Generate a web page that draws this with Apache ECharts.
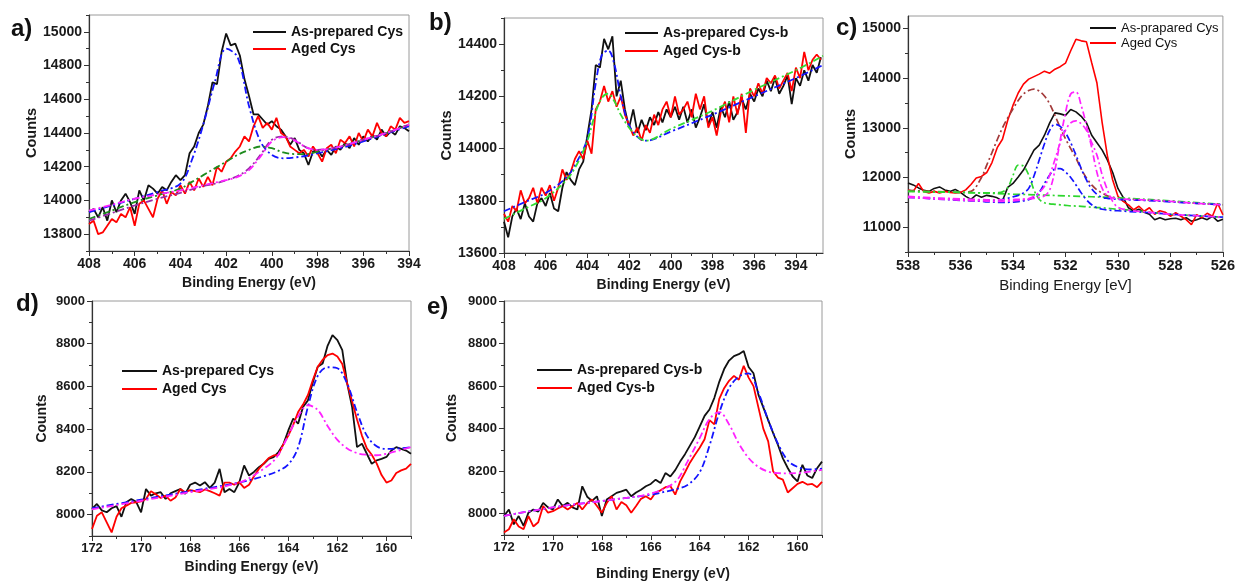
<!DOCTYPE html>
<html><head><meta charset="utf-8">
<script src="https://cdn.jsdelivr.net/npm/echarts@6.0.0/dist/echarts.min.js"></script>
<style>html,body{margin:0;padding:0;background:#fff}#chart{width:1238px;height:582px}</style>
</head><body><div id="chart"></div>
<script>
// ---------- Panel a: N 1s (Cys) ----------
const aE = [408,407.8,407.6,407.4,407.2,407,406.8,406.6,406.4,406.2,406,405.8,405.6,405.4,405.2,405,404.8,404.6,404.4,404.2,404,403.8,403.6,403.4,403.2,403,402.8,402.6,402.4,402.2,402,401.8,401.6,401.4,401.2,401,400.8,400.6,400.4,400.2,400,399.8,399.6,399.4,399.2,399,398.8,398.6,398.4,398.2,398,397.8,397.6,397.4,397.2,397,396.8,396.6,396.4,396.2,396,395.8,395.6,395.4,395.2,395,394.8,394.6,394.4,394.2,394];
const aAsPrep = [13930,13950,13900,13960,13880,14000,13930,14000,14040,13990,13920,14060,14000,14090,14070,14040,14080,14060,14110,14150,14120,14150,14280,14320,14400,14450,14560,14700,14690,14880,14990,14920,14930,14860,14720,14620,14510,14510,14480,14450,14470,14440,14420,14380,14330,14370,14300,14280,14210,14290,14300,14260,14300,14270,14320,14300,14340,14310,14370,14330,14380,14350,14390,14360,14420,14380,14410,14390,14440,14430,14410];
const aAged = [13860,13880,13800,13810,13850,13890,13870,13920,13900,13960,13850,13980,14000,13950,13900,14010,14060,13980,14050,14030,14090,14040,14110,14060,14130,14080,14140,14090,14200,14170,14230,14250,14290,14320,14380,14350,14440,14500,14430,14460,14420,14490,14400,14380,14320,14300,14280,14300,14260,14320,14280,14230,14310,14330,14280,14360,14340,14380,14320,14400,14350,14420,14380,14460,14400,14380,14440,14420,14490,14460,14470];
const aFitE = [408,407,406,405,404,403.5,403,402.5,402,401.5,401,400.5,400,399.5,399,398.5,398,397,396,395,394];
const aFitBlue = [13930,13970,14010,14050,14100,14240,14450,14700,14900,14850,14560,14350,14270,14250,14255,14265,14280,14310,14350,14395,14440];
const aFitGreen = [13890,13940,13990,14030,14070,14110,14150,14190,14230,14270,14300,14320,14310,14285,14275,14275,14290,14320,14360,14400,14450];
const aFitMagenta = [13940,13975,14010,14035,14060,14075,14090,14105,14120,14140,14180,14260,14350,14375,14355,14315,14300,14320,14360,14400,14450];
const aFitPurple = [13880,13925,13970,14010,14045,14065,14085,14100,14120,14145,14190,14270,14360,14380,14360,14315,14300,14320,14360,14400,14450];
const aXTicks = [408,406,404,402,400,398,396,394];
const aXMinor = [407,405,403,401,399,397,395];
const aYTicks = [13800,14000,14200,14400,14600,14800,15000];
const aYMinor = [13700,13900,14100,14300,14500,14700,14900,15100];

// ---------- Panel b: N 1s (Cys-b) ----------
const bE = [408,407.8,407.6,407.4,407.2,407,406.8,406.6,406.4,406.2,406,405.8,405.6,405.4,405.2,405,404.8,404.6,404.4,404.2,404,403.8,403.6,403.4,403.2,403,402.8,402.6,402.4,402.2,402,401.8,401.6,401.4,401.2,401,400.8,400.6,400.4,400.2,400,399.8,399.6,399.4,399.2,399,398.8,398.6,398.4,398.2,398,397.8,397.6,397.4,397.2,397,396.8,396.6,396.4,396.2,396,395.8,395.6,395.4,395.2,395,394.8,394.6,394.4,394.2,394,393.8,393.6,393.4,393.2,393,392.8];
const bAsPrep = [13720,13660,13740,13770,13730,13790,13740,13720,13790,13810,13780,13830,13770,13760,13850,13910,13880,13860,13920,13950,14050,14150,14320,14310,14420,14380,14430,14200,14260,14150,14080,14150,14060,14110,14070,14120,14090,14140,14100,14150,14120,14160,14110,14160,14100,14150,14080,14120,14170,14090,14140,14080,14160,14120,14180,14110,14140,14190,14150,14210,14180,14230,14200,14260,14220,14270,14210,14240,14280,14170,14270,14240,14300,14260,14320,14290,14350];
const bAged = [13750,13720,13780,13760,13840,13790,13810,13850,13790,13850,13820,13860,13800,13850,13920,13880,13910,13960,13990,13960,14030,13980,14150,14180,14240,14180,14220,14160,14200,14130,14090,14050,14080,14030,14090,14060,14130,14090,14150,14180,14120,14200,14130,14150,14180,14120,14210,14150,14200,14080,14120,14050,14140,14180,14100,14200,14130,14210,14060,14230,14200,14250,14210,14270,14250,14280,14230,14260,14290,14220,14310,14270,14370,14300,14340,14360,14340];
const bFitE = [408,407,406,405,404.5,404,403.6,403.3,403,402.7,402.4,402,401.6,401.2,400,398,396,394,392.7];
const bFitBlue = [13760,13795,13830,13890,13950,14040,14250,14360,14375,14320,14200,14090,14045,14030,14065,14130,14200,14270,14320];
const bFitGreen = [13730,13770,13810,13880,13940,14030,14140,14195,14210,14180,14130,14080,14045,14030,14075,14145,14225,14300,14355];
const bXTicks = [408,406,404,402,400,398,396,394];
const bXMinor = [407,405,403,401,399,397,395,393];
const bYTicks = [13600,13800,14000,14200,14400];
const bYMinor = [13700,13900,14100,14300,14500];

// ---------- Panel c: O 1s ----------
const cE = [538,537.8,537.6,537.4,537.2,537,536.8,536.6,536.4,536.2,536,535.8,535.6,535.4,535.2,535,534.8,534.6,534.4,534.2,534,533.8,533.6,533.4,533.2,533,532.8,532.6,532.4,532.2,532,531.8,531.6,531.4,531.2,531,530.8,530.6,530.4,530.2,530,529.8,529.6,529.4,529.2,529,528.8,528.6,528.4,528.2,528,527.8,527.6,527.4,527.2,527,526.8,526.6,526.4,526.2,526];
const cAsPrep = [11890,11850,11790,11740,11720,11780,11810,11750,11720,11760,11700,11620,11560,11650,11600,11640,11620,11590,11530,11800,11880,12010,12150,12350,12550,12650,12850,13100,13300,13280,13250,13370,13320,13230,13100,12850,12700,12550,12350,12100,11780,11600,11390,11320,11360,11300,11260,11150,11190,11150,11170,11180,11150,11190,11120,11150,11190,11150,11220,11120,11160];
const cAged = [11750,11720,11880,11720,11690,11720,11690,11720,11700,11690,11700,11750,11860,11990,12020,12100,12300,12600,12770,13150,13450,13700,13880,13980,14030,14080,14140,14100,14180,14230,14300,14550,14780,14750,14730,14310,13900,13100,12430,11950,11620,11520,11450,11350,11420,11320,11390,11260,11330,11300,11220,11290,11220,11150,11050,11250,11190,11280,11220,11480,11250];
const cFitE = [538,537,536,535.6,535.2,535,534.8,534.6,534.4,534.2,534,533.8,533.6,533.4,533.2,533,532.8,532.6,532.4,532.2,532,531.8,531.6,531.4,531.2,531,530.8,530.6,530.4,530.2,530,529.6,529,528,527,526];
const cFitBrown = [11740,11720,11700,11720,12000,12250,12500,12760,13000,13200,13380,13550,13680,13750,13780,13740,13640,13480,13250,13000,12780,12580,12390,12170,11990,11850,11750,11690,11630,11600,11580,11570,11550,11520,11480,11450];
const cFitGreenPeak = [11720,11710,11700,11695,11690,11690,11690,11695,11710,11790,12040,12250,12230,12050,11750,11560,11490,11470,11460,11450,11440,11430,11425,11420,11410,11400,11395,11390,11380,11370,11360,11345,11310,11260,11230,11200];
const cBaseE = [538,536,534,532,530,528,526];
const cFitGreenBase = [11720,11700,11665,11630,11590,11530,11460];
const cFitBlueTall = [11610,11580,11560,11550,11545,11540,11540,11545,11555,11580,11610,11640,11690,11780,12030,12350,12680,12950,13070,13030,12900,12700,12450,12180,11950,11770,11660,11600,11580,11570,11560,11550,11540,11510,11480,11450];
const cFitBlueSmall = [11600,11570,11540,11530,11520,11510,11505,11500,11500,11500,11505,11515,11530,11555,11600,11700,11880,12050,12170,12180,12110,12000,11850,11690,11550,11450,11390,11360,11345,11335,11330,11315,11300,11260,11230,11200];
const cFitMagTall = [11620,11590,11570,11560,11555,11550,11550,11550,11550,11550,11555,11560,11565,11570,11580,11600,11630,11750,12150,12750,13300,13680,13720,13450,13050,12600,12100,11780,11630,11590,11570,11560,11550,11520,11480,11450];
const cFitMagWide = [11600,11570,11545,11535,11530,11525,11520,11520,11520,11525,11530,11540,11555,11575,11620,11700,11820,12050,12360,12700,12950,13100,13140,13080,12950,12700,12450,12050,11750,11520,11400,11340,11310,11260,11230,11200];
const cXTicks = [538,536,534,532,530,528,526];
const cXMinor = [537,535,533,531,529,527];
const cYTicks = [11000,12000,13000,14000,15000];
const cYMinor = [10500,11500,12500,13500,14500];

// ---------- Panels d, e: S 2p ----------
const sE = [172,171.8,171.6,171.4,171.2,171,170.8,170.6,170.4,170.2,170,169.8,169.6,169.4,169.2,169,168.8,168.6,168.4,168.2,168,167.8,167.6,167.4,167.2,167,166.8,166.6,166.4,166.2,166,165.8,165.6,165.4,165.2,165,164.8,164.6,164.4,164.2,164,163.8,163.6,163.4,163.2,163,162.8,162.6,162.4,162.2,162,161.8,161.6,161.4,161.2,161,160.8,160.6,160.4,160.2,160,159.8,159.6,159.4,159.2,159];
const dAsPrep = [8027,8050,8020,8011,8030,8040,7990,8058,8073,8060,8011,8120,8089,8100,8105,8073,8100,8110,8120,8097,8140,8150,8136,8152,8125,8150,8214,8105,8120,8105,8150,8230,8183,8200,8222,8238,8261,8269,8293,8330,8394,8450,8426,8504,8535,8620,8692,8707,8790,8840,8817,8770,8613,8504,8316,8332,8285,8238,8254,8261,8270,8300,8316,8308,8300,8285];
const dAged = [7933,7995,8011,7964,7917,7990,8030,8042,8055,8058,8062,8073,8110,8095,8078,8089,8065,8080,8120,8105,8115,8110,8105,8118,8110,8100,8089,8150,8150,8140,8152,8125,8140,8180,8214,8240,8265,8277,8280,8330,8370,8420,8480,8515,8560,8630,8692,8725,8747,8754,8740,8705,8615,8530,8445,8370,8310,8280,8240,8185,8150,8160,8195,8207,8215,8238];
const eAsPrep = [7989,8020,7950,7989,7943,8005,8020,8010,8051,8030,8020,8067,8036,8051,8030,8020,8129,8080,8060,8082,7989,8067,8082,8098,8105,8113,8082,8100,8113,8129,8140,8160,8144,8191,8175,8205,8245,8280,8320,8360,8410,8460,8490,8545,8620,8680,8720,8741,8750,8765,8690,8660,8560,8500,8440,8380,8323,8260,8215,8175,8152,8230,8180,8168,8214,8245];
const eAged = [7912,7927,7974,7940,7927,7989,7940,7960,8036,8005,8012,8025,8036,8020,8035,8051,8020,8050,8067,8036,8005,8050,8082,8020,8055,8040,8005,8036,8070,8082,8067,8100,8110,8125,8130,8090,8152,8195,8240,8276,8310,8350,8440,8420,8540,8590,8625,8648,8630,8695,8640,8600,8500,8400,8340,8200,8170,8160,8100,8120,8140,8150,8137,8140,8125,8150];
const sFitE = [172,170,168,166,165,164.5,164,163.6,163.2,162.8,162.4,162,161.6,161.2,160.8,160.4,160,159.5,159];
const dFitBlue = [8030,8070,8110,8150,8180,8200,8235,8315,8505,8650,8690,8685,8613,8480,8370,8320,8308,8310,8316];
const dFitMagenta = [8025,8065,8105,8150,8215,8265,8370,8460,8512,8490,8415,8350,8310,8288,8280,8278,8285,8300,8316];
const eFitBlue = [7990,8030,8060,8090,8115,8135,8195,8320,8475,8590,8645,8660,8570,8440,8330,8250,8220,8208,8212];
const eFitMagenta = [7990,8030,8060,8095,8150,8245,8355,8445,8478,8420,8330,8262,8220,8198,8191,8190,8191,8198,8206];
const sXTicks = [172,170,168,166,164,162,160];
const sXMinor = [171,169,167,165,163,161,159];
const sYTicks = [8000,8200,8400,8600,8800,9000];
const sYMinor = [7900,8100,8300,8500,8700,8900];

// ---------- build ----------
const FONT = '"Liberation Sans", Arial, sans-serif';
const AX = '#333';
function pairs(xs, ys) { return xs.map((x, i) => [x, ys[i]]); }

function axisPair(dim, gi, p) {
  const major = {
    type: 'value', gridIndex: gi, min: p.min, max: p.max,
    inverse: dim === 'x', position: dim === 'x' ? 'bottom' : 'left',
    name: p.name, nameLocation: 'middle', nameGap: p.gap,
    nameRotate: dim === 'y' ? 90 : 0,
    nameTextStyle: { fontFamily: FONT, fontWeight: p.nameWeight || 'bold', fontSize: p.nameSize, color: '#1a1a1a' },
    axisLine: { show: true, onZero: false, lineStyle: { color: AX, width: 1.2 } },
    axisTick: { show: true, inside: false, length: 5, customValues: p.ticks, lineStyle: { color: AX, width: 1 } },
    axisLabel: { show: true, customValues: p.ticks, margin: dim === 'x' ? 6 : 7,
      formatter: v => String(v),
      fontFamily: FONT, fontWeight: 'bold', fontSize: p.labelSize, color: '#1a1a1a' },
    splitLine: { show: false }
  };
  const minor = {
    type: 'value', gridIndex: gi, min: p.min, max: p.max,
    inverse: dim === 'x', position: dim === 'x' ? 'bottom' : 'left',
    axisLine: { show: false, onZero: false },
    axisTick: { show: true, inside: false, length: 3, customValues: p.minor, lineStyle: { color: AX, width: 1 } },
    axisLabel: { show: false }, splitLine: { show: false }
  };
  return [major, minor];
}

const panels = [
  { grid: { left: 89, top: 15, width: 320, height: 236 },
    x: { min: 394, max: 408, ticks: aXTicks, minor: aXMinor, name: 'Binding Energy (eV)', gap: 25, nameSize: 14, labelSize: 14 },
    y: { min: 13700, max: 15100, ticks: aYTicks, minor: aYMinor, name: 'Counts', gap: 41, nameSize: 14.5, labelSize: 14 } },
  { grid: { left: 504, top: 18, width: 319, height: 235 },
    x: { min: 392.7, max: 408, ticks: bXTicks, minor: bXMinor, name: 'Binding Energy (eV)', gap: 25, nameSize: 14, labelSize: 14 },
    y: { min: 13600, max: 14500, ticks: bYTicks, minor: bYMinor, name: 'Counts', gap: 44, nameSize: 14.5, labelSize: 14 } },
  { grid: { left: 908, top: 16, width: 319, height: 236 },
    x: { min: 526, max: 538, ticks: cXTicks, minor: cXMinor, name: 'Binding Energy [eV]', gap: 26, nameSize: 15, nameWeight: 'normal', labelSize: 14.5 },
    y: { min: 10500, max: 15250, ticks: cYTicks, minor: cYMinor, name: 'Counts', gap: 46, nameSize: 14.5, labelSize: 14 } },
  { grid: { left: 92, top: 301, width: 319, height: 235 },
    x: { min: 159, max: 172, ticks: sXTicks, minor: sXMinor, name: 'Binding Energy (eV)', gap: 24, nameSize: 14, labelSize: 13 },
    y: { min: 7900, max: 9000, ticks: sYTicks, minor: sYMinor, name: 'Counts', gap: 43, nameSize: 14, labelSize: 13 } },
  { grid: { left: 504, top: 301, width: 318, height: 236 },
    x: { min: 159, max: 172, ticks: sXTicks, minor: sXMinor, name: 'Binding Energy (eV)', gap: 32, nameSize: 14, labelSize: 13 },
    y: { min: 7900, max: 9000, ticks: sYTicks, minor: sYMinor, name: 'Counts', gap: 45, nameSize: 14, labelSize: 13 } }
];

const grids = [], xAxes = [], yAxes = [];
panels.forEach((p, gi) => {
  grids.push(Object.assign({ show: true, borderColor: '#9a9a9a', borderWidth: 1, backgroundColor: 'transparent' }, p.grid));
  xAxes.push(...axisPair('x', gi, p.x));
  yAxes.push(...axisPair('y', gi, p.y));
});

const series = [];
function dataLine(gi, name, xs, ys, color, w) {
  series.push({ type: 'line', name, xAxisIndex: gi * 2, yAxisIndex: gi * 2, data: pairs(xs, ys),
    symbol: 'none', showSymbol: false, smooth: false, clip: true, z: 3,
    lineStyle: { color, width: w || 1.8 }, itemStyle: { color } });
}
function fitLine(gi, name, xs, ys, color, w) {
  series.push({ type: 'line', name, xAxisIndex: gi * 2, yAxisIndex: gi * 2, data: pairs(xs, ys),
    symbol: 'none', showSymbol: false, smooth: 0.35, clip: true, z: 4,
    lineStyle: { color, width: w || 1.8, type: [7, 3, 2, 3] }, itemStyle: { color } });
}
const BLK = '#111111', RED = '#ff0000', BLUE = '#1414ff', MAG = '#ff22ff';

dataLine(0, 'As-prepared Cys', aE, aAsPrep, BLK);
dataLine(0, 'Aged Cys', aE, aAged, RED);
fitLine(0, 'a fit 1', aFitE, aFitBlue, BLUE);
fitLine(0, 'a fit 2', aFitE, aFitGreen, '#1e8c1e');
fitLine(0, 'a fit 3', aFitE, aFitPurple, '#9a2aa8');
fitLine(0, 'a fit 4', aFitE, aFitMagenta, MAG);

dataLine(1, 'As-prepared Cys-b', bE, bAsPrep, BLK);
dataLine(1, 'Aged Cys-b', bE, bAged, RED);
fitLine(1, 'b fit 1', bFitE, bFitBlue, BLUE);
fitLine(1, 'b fit 2', bFitE, bFitGreen, '#33dd33');

dataLine(2, 'As-prapared Cys', cE, cAsPrep, BLK, 1.6);
dataLine(2, 'Aged Cys', cE, cAged, RED, 1.6);
fitLine(2, 'c fit 1', cFitE, cFitBrown, '#a33a3a', 1.7);
fitLine(2, 'c fit 2', cBaseE, cFitGreenBase, '#2ed62e', 1.7);
fitLine(2, 'c fit 3', cFitE, cFitGreenPeak, '#2ed62e', 1.7);
fitLine(2, 'c fit 4', cFitE, cFitBlueSmall, BLUE, 1.7);
fitLine(2, 'c fit 5', cFitE, cFitBlueTall, BLUE, 1.7);
fitLine(2, 'c fit 6', cFitE, cFitMagWide, MAG, 1.7);
fitLine(2, 'c fit 7', cFitE, cFitMagTall, MAG, 1.7);

dataLine(3, 'As-prepared Cys', sE, dAsPrep, BLK);
dataLine(3, 'Aged Cys', sE, dAged, RED);
fitLine(3, 'd fit 1', sFitE, dFitBlue, BLUE);
fitLine(3, 'd fit 2', sFitE, dFitMagenta, MAG);

dataLine(4, 'As-prepared Cys-b', sE, eAsPrep, BLK);
dataLine(4, 'Aged Cys-b', sE, eAged, RED);
fitLine(4, 'e fit 1', sFitE, eFitBlue, BLUE);
fitLine(4, 'e fit 2', sFitE, eFitMagenta, MAG);

function legend(left, top, names, size, weight, gap, lw, lh) {
  return { show: true, orient: 'vertical', left, top, itemWidth: lw, itemHeight: 2, icon: 'rect',
    itemGap: gap, selectedMode: false, padding: 0, data: names,
    textStyle: { fontFamily: FONT, fontSize: size, fontWeight: weight, color: '#111', lineHeight: lh } };
}
const legends = [
  legend(253, 24, ['As-prepared Cys', 'Aged Cys'], 14, 'bold', 1, 33, 16),
  legend(625, 25, ['As-prepared Cys-b', 'Aged Cys-b'], 14, 'bold', 2, 33, 16),
  legend(1090, 21, ['As-prapared Cys', 'Aged Cys'], 13, 'normal', 1, 26, 14),
  legend(122, 363, ['As-prepared Cys', 'Aged Cys'], 14, 'bold', 2, 35, 16),
  legend(537, 362, ['As-prepared Cys-b', 'Aged Cys-b'], 14, 'bold', 2, 35, 16)
];

function plabel(text, left, top) {
  return { type: 'text', left, top, style: { text, font: 'bold 24px "Liberation Sans", Arial, sans-serif', fill: '#111' } };
}

const chart = echarts.init(document.getElementById('chart'), null, { renderer: 'canvas' });
chart.setOption({
  animation: false,
  backgroundColor: '#ffffff',
  textStyle: { fontFamily: FONT },
  grid: grids, xAxis: xAxes, yAxis: yAxes,
  legend: legends,
  series,
  graphic: [plabel('a)', 11, 17), plabel('b)', 429, 11), plabel('c)', 836, 16), plabel('d)', 16, 292), plabel('e)', 427, 295)]
});
</script></body></html>
